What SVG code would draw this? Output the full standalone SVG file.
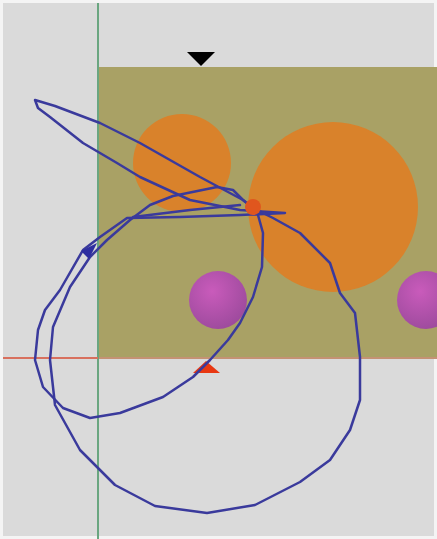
<svg xmlns="http://www.w3.org/2000/svg" width="437" height="539" viewBox="0 0 437 539">
<defs>
<radialGradient id="pg" cx="0.4" cy="0.35" r="0.7">
<stop offset="0" stop-color="#c95bbb"/>
<stop offset="1" stop-color="#9c4a9c"/>
</radialGradient>
<style>
.traj{fill:none;stroke:#3a3a9c;stroke-width:2.5;stroke-linejoin:round;stroke-linecap:round}
.orange{fill:#d9822b}
.purple{fill:url(#pg)}
</style>
</defs>
<rect x="0" y="0" width="437" height="539" fill="#f4f4f4"/>
<rect x="3" y="3" width="431" height="533" fill="#dadada"/>
<g id="field">
<rect x="98" y="67" width="339" height="291" fill="#a9a165"/>
<line x1="98" y1="358" x2="437" y2="358" stroke="#c49274" stroke-width="2"/>
</g>
<g id="axes">
<line x1="98" y1="3" x2="98" y2="539" stroke="#6aa680" stroke-width="2"/>
<line x1="3" y1="358" x2="98" y2="358" stroke="#d8705e" stroke-width="2"/>
</g>
<g id="obstacles">
<circle class="orange" cx="182" cy="163" r="49"/>
<circle class="orange" cx="333" cy="207" r="85"/>
<circle class="purple" cx="218" cy="300" r="29"/>
<circle class="purple" cx="426" cy="300" r="29"/>
</g>
<g id="markers">
<polygon points="187,52 215,52 201,66" fill="#000"/>
<polygon points="193,373 220,373 206,361" fill="#e83812"/>
</g>
<g id="connectors">
<polyline class="traj" points="253,208 243,200 200,177 140,143 100,123 55,106 35,100 38,108 50,117 83,143 117,163 140,177 190,200 240,210 285,213 240,215 180,217 127,218 100,237 83,250 60,290 45,310 38,330 35,360 43,387 63,408 90,418 120,413 163,397 193,377 210,360 228,340 240,323 253,297 262,267 263,233 258,215 253,208"/>
<polyline class="traj" points="253,208 273,218 300,233 330,263 340,293 355,313 360,357 360,400 350,430 330,460 300,482 255,505 207,513 155,506 115,485 80,450 55,405 50,360 53,327 70,287 90,257 107,240 130,220 150,205 173,196 217,187 233,190 243,200 253,208"/>
<polyline class="traj" points="133,217 190,210 240,205"/>
<polygon points="97,243 81,251 89,259" fill="#2e2ea0"/>
</g>
<g id="agent">
<circle cx="253" cy="207" r="8" fill="#e0561e"/>
</g>
</svg>
